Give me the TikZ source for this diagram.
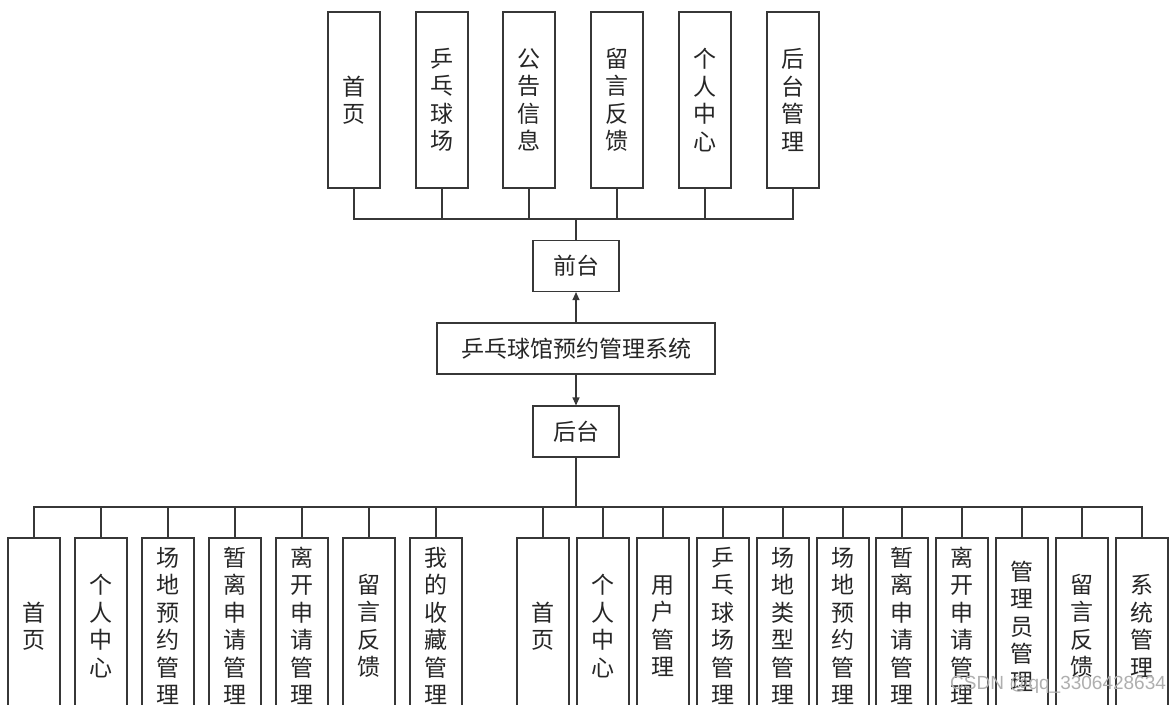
\documentclass[tikz,border=0pt]{standalone}
\usepackage{fontspec}
\newfontfamily\cjk{Noto Sans CJK SC}
\setsansfont{Liberation Sans}
\usetikzlibrary{arrows.meta}
\definecolor{ln}{RGB}{55,55,55}
\definecolor{wm}{RGB}{175,175,175}
\tikzset{
  vbox/.style={draw=ln, line width=1.1pt, fill=white, minimum width=52pt, minimum height=176pt,
    inner sep=0pt, align=center, font=\cjk\fontsize{23pt}{27.5pt}\selectfont, text=black!85},
  hbox/.style={draw=ln, line width=1.1pt, fill=white, minimum width=86pt, minimum height=51pt,
    inner sep=0pt, font=\cjk\fontsize{23pt}{27.5pt}\selectfont, text=black!85},
  conn/.style={draw=ln, line width=1.1pt},
  arr/.style={conn, -{Triangle[length=8pt,width=7pt]}}
}
\begin{document}
\begin{tikzpicture}[x=1pt,y=-1pt]
\useasboundingbox (0,0) rectangle (1175,704);
\clip (0,0) rectangle (1175,704);
% top row
\node[vbox] (t1) at (354,100) {首\\页};
\node[vbox] (t2) at (442,100) {乒\\乓\\球\\场};
\node[vbox] (t3) at (529,100) {公\\告\\信\\息};
\node[vbox] (t4) at (617,100) {留\\言\\反\\馈};
\node[vbox] (t5) at (705,100) {个\\人\\中\\心};
\node[vbox] (t6) at (793,100) {后\\台\\管\\理};
% middle
\node[hbox] (qt) at (576,266) {前台};
\node[hbox, minimum width=278pt] (sys) at (576,348.5) {乒乓球馆预约管理系统};
\node[hbox] (ht) at (576,431.5) {后台};
\coordinate (topbus) at (576,219);
\coordinate (botbus) at (576,507);
\foreach \i in {1,...,6} { \draw[conn] (t\i.south) |- (topbus); }
\draw[conn] (qt.north) -- (topbus);
\draw[arr] (sys.north) -- (qt.south);
\draw[arr] (sys.south) -- (ht.north);
\draw[conn] (ht.south) -- (botbus);
% bottom left (user)
\node[vbox] (u1) at (34,626) {首\\页};
\node[vbox] (u2) at (101,626) {个\\人\\中\\心};
\node[vbox] (u3) at (168,626) {场\\地\\预\\约\\管\\理};
\node[vbox] (u4) at (235,626) {暂\\离\\申\\请\\管\\理};
\node[vbox] (u5) at (302,626) {离\\开\\申\\请\\管\\理};
\node[vbox] (u6) at (369,626) {留\\言\\反\\馈};
\node[vbox] (u7) at (436,626) {我\\的\\收\\藏\\管\\理};
% bottom right (admin)
\node[vbox] (a1) at (543,626) {首\\页};
\node[vbox] (a2) at (603,626) {个\\人\\中\\心};
\node[vbox] (a3) at (663,626) {用\\户\\管\\理};
\node[vbox] (a4) at (723,626) {乒\\乓\\球\\场\\管\\理};
\node[vbox] (a5) at (783,626) {场\\地\\类\\型\\管\\理};
\node[vbox] (a6) at (843,626) {场\\地\\预\\约\\管\\理};
\node[vbox] (a7) at (902,626) {暂\\离\\申\\请\\管\\理};
\node[vbox] (a8) at (962,626) {离\\开\\申\\请\\管\\理};
\node[vbox] (a9) at (1022,626) {管\\理\\员\\管\\理};
\node[vbox] (a10) at (1082,626) {留\\言\\反\\馈};
\node[vbox] (a11) at (1142,626) {系\\统\\管\\理};
\foreach \i in {1,...,7} { \draw[conn] (u\i.north) |- (botbus); }
\foreach \i in {1,...,11} { \draw[conn] (a\i.north) |- (botbus); }
% watermark
\node[anchor=west, inner sep=0pt, text=wm, font=\sffamily\fontsize{19pt}{22pt}\selectfont] (wmk) at (950,685) {CSDN @qq\_3306428634};
\end{tikzpicture}
\end{document}
